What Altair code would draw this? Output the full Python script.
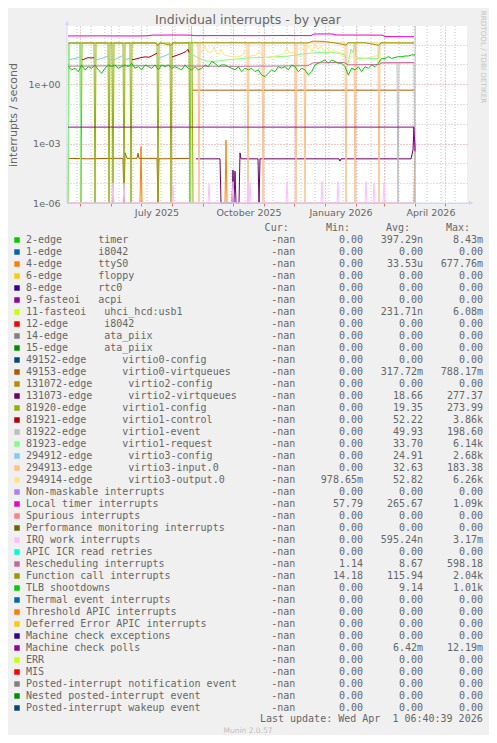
import altair as alt
import pandas as pd

NB = "\u00a0"

# ---------------- legend table ----------------
legend_names = [
    "2-edge      timer", "1-edge      i8042", "4-edge      ttyS0", "6-edge      floppy",
    "8-edge      rtc0", "9-fasteoi   acpi", "11-fasteoi   uhci_hcd:usb1", "12-edge      i8042",
    "14-edge      ata_piix", "15-edge      ata_piix", "49152-edge      virtio0-config",
    "49153-edge      virtio0-virtqueues", "131072-edge      virtio2-config",
    "131073-edge      virtio2-virtqueues", "81920-edge      virtio1-config",
    "81921-edge      virtio1-control", "81922-edge      virtio1-event",
    "81923-edge      virtio1-request", "294912-edge      virtio3-config",
    "294913-edge      virtio3-input.0", "294914-edge      virtio3-output.0",
    "Non-maskable interrupts", "Local timer interrupts", "Spurious interrupts",
    "Performance monitoring interrupts", "IRQ work interrupts", "APIC ICR read retries",
    "Rescheduling interrupts", "Function call interrupts", "TLB shootdowns",
    "Thermal event interrupts", "Threshold APIC interrupts", "Deferred Error APIC interrupts",
    "Machine check exceptions", "Machine check polls", "ERR", "MIS",
    "Posted-interrupt notification event", "Nested posted-interrupt event",
    "Posted-interrupt wakeup event"]
legend_colors = [
    "#00CC00", "#0066B3", "#FF8000", "#FFCC00", "#330099", "#990099", "#CCFF00", "#FF0000",
    "#808080", "#008F00", "#00487D", "#B35A00", "#B38F00", "#6B006B", "#8FB300", "#B30000",
    "#BEBEBE", "#80FF80", "#80C9FF", "#FFC080", "#FFE680", "#AA80FF", "#EE00CC", "#FF8080",
    "#666600", "#FFBFFF", "#00FFCC", "#CC6699", "#999900", "#00CC00", "#0066B3", "#FF8000",
    "#FFCC00", "#330099", "#990099", "#CCFF00", "#FF0000", "#808080", "#008F00", "#00487D"]
legend_cur = ["-nan"] * 40
legend_min = (["0.00"] * 20 + ["978.65m", "0.00", "57.79", "0.00", "0.00", "0.00", "0.00",
              "1.14", "14.18"] + ["0.00"] * 11)
legend_avg = ["397.29n", "0.00", "33.53u", "0.00", "0.00", "0.00", "231.71n", "0.00", "0.00",
              "0.00", "0.00", "317.72m", "0.00", "18.66", "19.35", "52.22", "49.93", "33.70",
              "24.91", "32.63", "52.82", "0.00", "265.67", "0.00", "0.00", "595.24n", "0.00",
              "8.67", "115.94", "9.14", "0.00", "0.00", "0.00", "0.00", "6.42m", "0.00",
              "0.00", "0.00", "0.00", "0.00"]
legend_max = ["8.43m", "0.00", "677.76m", "0.00", "0.00", "0.00", "6.08m", "0.00", "0.00",
              "0.00", "0.00", "788.17m", "0.00", "277.37", "273.99", "3.86k", "198.60",
              "6.14k", "2.68k", "183.38", "6.26k", "0.00", "1.09k", "0.00", "0.00", "3.17m",
              "0.00", "598.18", "2.04k", "1.01k", "0.00", "0.00", "0.00", "0.00", "12.19m",
              "0.00", "0.00", "0.00", "0.00", "0.00"]

# ---------------- series values (interrupts / second) ----------------
ttys0_dates = ["2025-04-19", "2025-06-30", "2025-07-01", "2025-07-02", "2025-09-23",
               "2025-09-24", "2025-09-25", "2026-03-31", "2026-04-01"]
ttys0_vals = [0, 0, 7e-4, 0, 0, 1.5e-3, 0, 0, 1.1e-3]

v49153_dates = ["2025-04-19", "2025-05-10", "2025-06-01", "2025-06-13", "2025-06-14",
                "2025-06-15", "2025-06-17", "2025-06-27", "2025-06-28", "2025-06-29",
                "2025-07-17", "2025-07-18", "2025-07-19", "2025-08-19", None,
                "2025-08-22", "2026-03-31"]
v49153_vals = [1.8e-4, 1.7e-4, 1.8e-4, 1.8e-4, 0, 3.5e-4, 1.8e-4, 1.8e-4, 3.3e-4, 1.8e-4,
               1.8e-4, 0, 1.7e-4, 1.8e-4, None, 0.5, 0.5]

v131073_dates = ["2025-08-25", "2025-09-05", "2025-09-18", "2025-09-19", "2025-09-30",
                 "2025-10-01", "2025-10-02", "2025-10-03", "2025-10-04", "2025-10-07",
                 "2025-10-08", "2025-10-09", "2025-10-26", "2025-10-27", "2025-10-28",
                 "2025-12-20", "2026-01-15", "2026-01-16", "2026-01-17", "2026-03-28",
                 "2026-03-30", "2026-03-31", "2026-04-01"]
v131073_vals = [1.7e-4, 1.7e-4, 1.7e-4, 0, 0, 4.6e-5, 0, 4e-5, 0, 0, 3.4e-4, 1.7e-4,
                1.7e-4, 0, 1.7e-4, 1.7e-4, 1.7e-4, 1.3e-4, 1.7e-4, 1.7e-4, 4.8e-4, 7e-3,
                5e-4]

v81920_dates = ["2025-04-19", "2025-04-20", "2025-05-01", "2025-05-02", "2025-05-03",
                "2025-05-15", "2025-05-16", "2025-05-17", "2025-05-29", "2025-05-30",
                "2025-05-31", "2025-06-02", "2025-06-03", "2025-06-04", "2025-06-13",
                "2025-06-14", "2025-06-15", "2025-06-20", "2025-06-21", "2025-06-22",
                "2025-07-17", "2025-07-18", "2025-07-19", "2025-07-30", "2025-07-31",
                "2025-08-01", "2025-08-18", "2025-08-19", "2025-08-20", "2025-08-21",
                "2025-08-22"]
v81920_vals = [0, 120, 120, 0, 120, 120, 0, 120, 120, 0, 120, 120, 0, 120, 120, 0, 120, 120,
               0, 120, 120, 0, 120, 120, 0, 120, 120, 0, 120, 120, 0]

v81921_dates = ["2025-05-03", "2025-05-06", "2025-05-09", "2025-05-12", "2025-05-15", None,
                "2025-06-22", "2025-06-26", "2025-07-01", "2025-07-05", "2025-07-09",
                "2025-07-12", "2025-07-15", "2025-07-17", None, "2025-08-01", "2025-08-05",
                "2025-08-09", "2025-08-12", "2025-08-15", "2025-08-17", "2025-08-18"]
v81921_vals = [17, 19, 22, 21, 22, None, 17, 19, 22, 24, 23, 27, 33, 36, None, 24, 28, 33,
               38, 45, 58, 40]

v81922_dates = ["2026-02-25", "2026-03-14", "2026-03-15", "2026-03-16", "2026-03-31",
                "2026-04-01", "2026-04-01"]
v81922_vals = [12, 12, 0, 12, 12, 0, 5000]

v81923_dates = ["2025-04-19", "2025-04-20", "2025-05-01", "2025-05-02", None, "2025-08-20",
                "2025-08-20T12:00", "2025-08-21", "2025-08-23", "2025-08-28", "2025-09-05",
                "2025-09-12", "2025-09-20", "2025-10-01", "2025-10-15", "2025-10-25",
                "2025-11-10", "2025-11-25", "2025-12-03", "2025-12-12", "2025-12-25",
                "2026-01-10", "2026-01-21", "2026-01-23", "2026-01-25", "2026-01-27",
                "2026-01-29", "2026-01-31", "2026-02-01", "2026-02-23", "2026-02-25",
                "2026-03-31"]
v81923_vals = [0, 120, 120, 0, None, 0, 5000, 30, 28, 20, 15, 14, 16, 18, 21, 22, 24, 26, 30,
               35, 40, 40, 30, 8, 18, 60, 40, 130, 20, 20, 128, 130]

v294912_dates = ["2025-04-20", "2025-04-24", "2025-04-28", "2025-05-01", None, "2025-05-17",
                 "2025-05-21", "2025-05-25", "2025-05-29", None, "2025-05-31", "2025-06-02",
                 None, "2025-06-04", "2025-06-08", "2025-06-13", None, "2025-06-15",
                 "2025-06-20", None, "2025-07-19", "2025-07-23", "2025-07-27", "2025-07-30"]
v294912_vals = [17, 19, 21, 24, None, 17, 19, 22, 26, None, 17, 19, None, 17, 21, 28, None,
                17, 21, None, 20, 25, 30, 36]

v294913_dates = ["2025-08-23", "2025-08-27", "2025-08-28", "2025-08-29", "2025-10-15",
                 "2025-10-16", "2025-10-17", "2025-10-30", "2025-10-31", "2025-11-01",
                 "2025-12-02", "2025-12-03", "2025-12-04", "2025-12-11", "2025-12-12",
                 "2025-12-13", "2026-01-21", "2026-01-22", "2026-01-23", "2026-01-30",
                 "2026-01-31", "2026-02-01", "2026-02-23", "2026-02-24", "2026-02-25",
                 "2026-03-31"]
v294913_vals = [122, 122, 0, 122, 122, 0, 122, 122, 0, 122, 122, 0, 122, 122, 0, 122, 122, 0,
                122, 122, 0, 122, 122, 0, 122, 122]

v294914_dates = ["2025-08-29", "2025-08-31", "2025-09-03", "2025-09-05", "2025-09-08",
                 "2025-09-11", "2025-09-12", "2025-09-14", "2025-09-17", "2025-09-19",
                 "2025-09-22", "2025-09-27", "2025-10-02", "2025-10-07", "2025-10-11",
                 "2025-10-13", "2025-10-15", None,
                 "2025-10-17", "2025-10-21", "2025-10-24", "2025-10-27", "2025-10-30", None,
                 "2025-11-01", "2025-11-05", "2025-11-09", "2025-11-13", "2025-11-17",
                 "2025-11-21", "2025-11-24", "2025-11-26", "2025-11-30", "2025-12-02", None,
                 "2025-12-04", "2025-12-07", "2025-12-10", "2025-12-11", None,
                 "2025-12-13", "2025-12-16", "2025-12-19", "2025-12-22", "2025-12-25",
                 "2025-12-28", "2025-12-31", "2026-01-03", "2026-01-06", "2026-01-10",
                 "2026-01-14", "2026-01-18", "2026-01-21", None,
                 "2026-01-23", "2026-01-27", "2026-01-30", None,
                 "2026-02-01", "2026-02-05", "2026-02-10", "2026-02-15", "2026-02-20",
                 "2026-02-23", None, "2026-02-25", "2026-03-31"]
v294914_vals = [45, 42, 90, 45, 40, 50, 80, 40, 32, 60, 30, 26, 24, 25, 30, 55, 35, None,
                25, 28, 30, 45, 35, None,
                22, 23, 24, 27, 30, 35, 70, 38, 40, 42, None,
                50, 65, 55, 60, None,
                50, 90, 45, 100, 60, 80, 50, 70, 40, 55, 40, 38, 36, None,
                22, 24, 24, None,
                21, 22, 21, 22, 26, 28, None, 120, 121]

loc_dates = ["2025-04-19", "2025-05-20", "2025-06-25", "2025-07-08", "2025-07-12",
             "2025-08-01", "2025-08-20", "2025-08-23", "2025-09-20", "2025-10-20",
             "2025-11-20", "2025-12-18", "2025-12-21", "2026-01-05", "2026-01-09",
             "2026-01-12", "2026-02-10", "2026-02-27", "2026-03-02", "2026-03-31"]
loc_vals = [273, 276, 272, 278, 300, 306, 302, 283, 285, 282, 287, 284, 342, 346, 340, 305,
            303, 300, 255, 250]

irq_dates = ["2025-04-19", "2025-06-02", "2025-06-03", "2025-06-04", "2025-06-13",
             "2025-06-14", "2025-06-15", "2025-08-01", "2025-08-02", "2025-08-03",
             "2025-09-06", "2025-09-07", "2025-09-08", "2025-09-30", "2025-10-01",
             "2025-10-02", "2025-10-15", "2025-10-16", "2025-10-17", "2025-10-18",
             "2025-10-19", "2025-11-23", "2025-11-24", "2025-11-25", "2025-12-28",
             "2025-12-29", "2025-12-30", "2026-01-13", "2026-01-14", "2026-01-15",
             "2026-02-10", "2026-02-11", "2026-02-12", "2026-02-18", "2026-02-19",
             "2026-02-20", "2026-02-28", "2026-03-01", "2026-03-02", "2026-03-31"]
irq_vals = [0, 0, 1e-5, 0, 0, 1e-5, 0, 0, 8e-6, 0, 0, 9e-6, 0, 0, 1.2e-5, 0, 0, 1.2e-5, 0,
            1e-5, 0, 0, 1.2e-5, 0, 0, 1.2e-5, 0, 0, 1.2e-5, 0, 0, 1.2e-5, 0, 0, 1e-5, 0, 0,
            1e-5, 0, 0]

resched_dates = ["2025-04-19", "2025-06-01", "2025-07-15", "2025-08-20", "2025-10-01",
                 "2025-11-15", "2025-12-15", "2025-12-20", "2026-01-20", "2026-01-24",
                 "2026-02-24", "2026-02-27", "2026-03-31"]
resched_vals = [8.2, 8.4, 8.6, 8.3, 8.0, 8.3, 8.6, 12.0, 12.5, 9.5, 9.8, 12.0, 12.3]

fcall_dates = ["2025-04-19", "2025-05-15", "2025-06-15", "2025-07-15", "2025-07-18",
               "2025-07-20", "2025-07-31", "2025-08-02", "2025-08-20", "2025-09-15",
               "2025-10-15", "2025-11-15", "2025-12-15", "2025-12-20", "2025-12-30",
               "2026-01-10", "2026-01-22", "2026-01-24", "2026-02-10", "2026-02-24",
               "2026-02-26", "2026-03-15", "2026-03-31"]
fcall_vals = [120, 121, 120, 122, 90, 121, 92, 122, 123, 124, 123, 122, 121, 150, 145, 124,
              95, 123, 124, 92, 123, 121, 120]

# TLB shootdowns, one reading every 80 hours from 2025-04-19 08:00
tlb_start = "2025-04-19 08:00"
tlb_vals = [7.7, 5.3, 6.4, 4.3, 9.4, 5.3, 7.7, 6.4, 9.4, 5.3, 3.6, 6.4, 9.4, 7.7, 9.4, 6.4,
            7.7, 9.4, 7.7, 11.4, 6.4, 7.7, 5.3, 9.4, 7.7, 6.4, 9.4, 5.3, 9.4, 7.7, 9.4, 6.4,
            7.7, 6.4, 5.3, 9.4, 6.4, 5.3, 7.7, 5.3, 6.4, 9.4, 7.7, 13.9, 11.4, 7.7, 9.4, 9.4,
            7.7, 6.4, 5.3, 7.7, 4.3, 6.4, 5.3, 6.4, 4.3, 5.3, 2.9, 2.4, 3.6, 5.3, 4.3, 7.7,
            6.4, 7.7, 5.3, 9.4, 7.7, 4.3, 6.4, 5.3, 2.9, 4.3, 9.4, 11.4, 13.9, 16.8, 11.4,
            16.8, 13.9, 11.4, 11.4, 7.7, 2.9, 6.4, 5.3, 7.7, 4.3, 7.7, 6.4, 9.4, 7.7, 11.4,
            20, 20, 24.6, 20, 22.6, 24.6, 24.6, 26.5, 26.5, 30, 30]
tlb_dates = list(pd.date_range(tlb_start, periods=len(tlb_vals), freq="80h"))

mcp_dates = ["2025-04-19", "2026-03-31", "2026-04-01"]
mcp_vals = [6.8e-3, 6.8e-3, 4e-4]

# minor (grey) vertical grid, every second Monday
minor_grid = ["2025-04-28", "2025-05-12", "2025-05-26", "2025-06-09", "2025-06-23",
              "2025-07-07", "2025-07-21", "2025-08-04", "2025-08-18", "2025-09-01",
              "2025-09-15", "2025-09-29", "2025-10-13", "2025-10-27", "2025-11-10",
              "2025-11-24", "2025-12-08", "2025-12-22", "2026-01-05", "2026-01-19",
              "2026-02-02", "2026-02-16", "2026-03-02", "2026-03-16", "2026-03-30",
              "2026-04-13", "2026-04-27", "2026-05-11"]
month_ticks = [(2025, m) for m in range(5, 13)] + [(2026, m) for m in range(1, 6)]
y_ticks = [1e-6, 1e-5, 1e-4, 1e-3, 1e-2, 1e-1, 1, 10, 100]

plot_series = [
    (2, ttys0_dates, ttys0_vals), (11, v49153_dates, v49153_vals),
    (13, v131073_dates, v131073_vals), (14, v81920_dates, v81920_vals),
    (15, v81921_dates, v81921_vals), (16, v81922_dates, v81922_vals),
    (17, v81923_dates, v81923_vals), (18, v294912_dates, v294912_vals),
    (19, v294913_dates, v294913_vals), (20, v294914_dates, v294914_vals),
    (22, loc_dates, loc_vals), (25, irq_dates, irq_vals), (27, resched_dates, resched_vals),
    (28, fcall_dates, fcall_vals), (29, tlb_dates, tlb_vals), (34, mcp_dates, mcp_vals)]

# ---------------- styling ----------------
FONT = "DejaVu Sans"
MONO = "DejaVu Sans Mono"
FG = "#666666"
MGRID = "#E89494"
GRID = "#C6C6C6"
AXISC = "#CFD6F8"

xscale = alt.Scale(domain=[alt.DateTime(year=2025, month=4, date=18),
                           alt.DateTime(year=2026, month=5, date=23)], nice=False)
yscale = alt.Scale(type="log", domain=[1e-6, 870], clamp=True, nice=False)
lg = "round(log(datum.value)/LN10)"
xaxis = alt.Axis(
    values=[alt.DateTime(year=y, month=m, date=1) for y, m in month_ticks],
    labelExpr="month(datum.value) % 3 == 0 ? timeFormat(datum.value, '%B %Y') : ''",
    grid=True, gridColor=MGRID, gridDash=[1, 2], ticks=True, tickColor="#E07070",
    tickSize=3, domain=False, labelOffset=15.5, labelPadding=9,
    labelBaseline="alphabetic", labelFont=FONT, labelFontSize=9.5, labelColor=FG,
    labelOverlap=False, labelFlush=False, title=None)
yaxis = alt.Axis(
    values=y_ticks,
    labelExpr=f"{lg} == 0 ? '1e+00' : {lg} == -3 ? '1e-03' : {lg} == -6 ? '1e-06' : ''",
    grid=True,
    gridColor={"condition": {"test": f"abs({lg}) % 3 == 0", "value": MGRID}, "value": GRID},
    gridDash=[1, 2], ticks=False, tickSize=0, domain=False, labelPadding=7,
    labelFont=FONT, labelFontSize=9.5, labelColor=FG, labelOverlap=False,
    title="interrupts / second", titleX=-54, titleY=88.5, titleAngle=-90,
    titleAlign="center", titleBaseline="middle", titleFont=FONT, titleFontSize=11,
    titleFontWeight="normal", titleColor=FG)


def series_frame(dates, vals):
    rows, seg = [], 0
    for d, v in zip(dates, vals):
        if v is None:
            seg += 1
            continue
        rows.append({"date": pd.Timestamp(d), "v": max(v, 1e-9), "seg": seg})
    return pd.DataFrame(rows)


X = alt.X("date:T", scale=xscale, axis=xaxis)
Y = alt.Y("v:Q", scale=yscale, axis=yaxis)

grid_layer = alt.Chart(pd.DataFrame({"date": pd.to_datetime(minor_grid)})).mark_rule(
    color=GRID, strokeDash=[1, 2], strokeWidth=1).encode(x=X)

layers = [grid_layer]
for idx, d, v in plot_series:
    df = series_frame(d, v)
    layers.append(alt.Chart(df).mark_line(color=legend_colors[idx], strokeWidth=1.0,
                                          interpolate="linear").encode(
        x=X, y=Y, detail="seg:N"))

one = pd.DataFrame({"a": [0]})
axis_lines = [
    alt.Chart(one).mark_rule(color=AXISC, strokeWidth=1).encode(
        x=alt.value(0), x2=alt.value(402), y=alt.value(177)),
    alt.Chart(one).mark_rule(color=AXISC, strokeWidth=1).encode(
        x=alt.value(0), y=alt.value(-3), y2=alt.value(177)),
    alt.Chart(one).mark_point(shape="triangle-right", filled=True, size=22, color=AXISC,
                              opacity=1).encode(x=alt.value(404), y=alt.value(177)),
    alt.Chart(one).mark_point(shape="triangle-up", filled=True, size=22, color=AXISC,
                              opacity=1).encode(x=alt.value(0), y=alt.value(-3)),
]
plot_group = alt.layer(*layers, *axis_lines)

# ---------------- legend ----------------
def cell(s):
    return s if s[-1].isalpha() else s + NB


leg = pd.DataFrame({
    "row": list(range(40)),
    "name": [n.replace(" ", NB) for n in legend_names],
    "color": legend_colors,
    "cur": legend_cur,
    "mn": [cell(s) for s in legend_min],
    "av": [cell(s) for s in legend_avg],
    "mx": [cell(s) for s in legend_max],
})
RY = alt.Y("row:Q", scale=alt.Scale(domain=[0, 39], range=[214, 682], nice=False, zero=False),
           axis=None)
base = alt.Chart(leg)
sq = base.mark_square(size=30, filled=True, opacity=1).encode(
    x=alt.value(-50), y=RY, color=alt.Color("color:N", scale=None))
txt_kw = dict(font=MONO, fontSize=10, color=FG, baseline="middle")
names_l = base.mark_text(align="left", **txt_kw).encode(x=alt.value(-41), y=RY, text="name:N")
cur_l = base.mark_text(align="right", **txt_kw).encode(x=alt.value(228.3), y=RY, text="cur:N")
min_l = base.mark_text(align="right", **txt_kw).encode(x=alt.value(296), y=RY, text="mn:N")
avg_l = base.mark_text(align="right", **txt_kw).encode(x=alt.value(356), y=RY, text="av:N")
max_l = base.mark_text(align="right", **txt_kw).encode(x=alt.value(416), y=RY, text="mx:N")

hdr = pd.DataFrame({"row": [-1] * 4, "t": ["Cur:", "Min:", "Avg:", "Max:"],
                    "col": [221.7, 283, 343, 403]})
hdr_layers = [alt.Chart(hdr[hdr.t == t]).mark_text(align="right", **txt_kw).encode(
    x=alt.value(c), y=RY, text="t:N") for t, c in zip(hdr.t, hdr.col)]

legend_group = alt.layer(sq, names_l, cur_l, min_l, avg_l, max_l, *hdr_layers)

# ---------------- texts ----------------
def label(text, x, y, **kw):
    return alt.Chart(pd.DataFrame({"t": [text]})).mark_text(**kw).encode(
        text="t:N", x=alt.value(x), y=alt.value(y))


texts = [
    label("Individual interrupts - by year", 181, -2, font=FONT, fontSize=12.5, color=FG,
          align="center", baseline="alphabetic"),
    label("RRDTOOL / TOBI OETIKER", 416, 31, font=FONT, fontSize=7.2, color="#C4C4C4",
          align="center", baseline="middle", angle=90),
    label("Last update: Wed Apr" + NB + NB + "1 06:40:39 2026", 415.7, 693.3, font=MONO,
          fontSize=10, color=FG, align="right", baseline="middle"),
    label("Munin 2.0.57", 181, 705, font=FONT, fontSize=7.5, color="#C0C0C0",
          align="center", baseline="middle"),
]

chart = alt.layer(plot_group, legend_group, *texts).resolve_scale(y="independent").properties(
    width=400, height=177,
    autosize=alt.AutoSizeParams(type="none"),
    padding={"left": 59, "top": 18, "right": 22, "bottom": 532},
).configure(background="#F0F0F0").configure_view(stroke=None, fill="#FFFFFF")

chart.save("out.html", embed_options={"renderer": "svg", "actions": False})
